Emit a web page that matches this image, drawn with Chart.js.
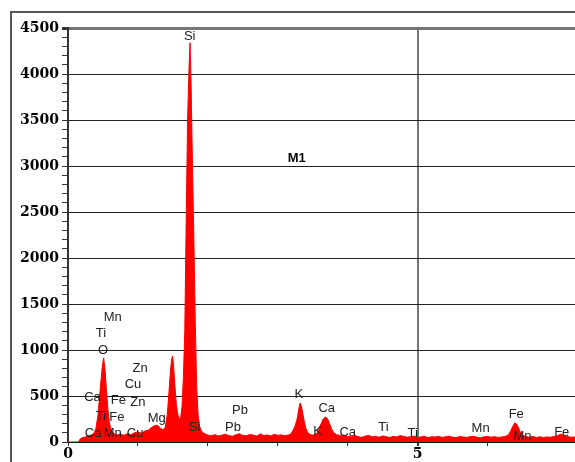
<!DOCTYPE html>
<html>
<head>
<meta charset="utf-8">
<script src="https://cdn.jsdelivr.net/npm/chart.js@4.4.1/dist/chart.umd.min.js"></script>
<style>
  html, body { margin: 0; padding: 0; background: #fff; }
  #wrap { width: 575px; height: 462px; }
</style>
</head>
<body>
<div id="wrap"><canvas id="spectrum" width="575" height="462"></canvas></div>
<script>
// EDS spectrum, sample M1 - energy (keV) vs counts
const energyKeV = [
  0, 0.15, 0.17, 0.2, 0.25, 0.3, 0.35, 0.38, 0.4, 0.43, 0.45, 0.47, 0.49, 0.51, 0.53, 0.55, 0.57, 0.59, 0.61, 0.63,
  0.66, 0.7, 0.75, 0.8, 0.85, 0.9, 0.95, 1.0, 1.05, 1.1, 1.15, 1.2, 1.24, 1.28, 1.32, 1.36, 1.39,
  1.42, 1.44, 1.46, 1.48, 1.495, 1.51, 1.53, 1.55, 1.57, 1.59, 1.61, 1.63, 1.65, 1.67, 1.69, 1.71, 1.73, 1.745, 1.76, 1.78, 1.8, 1.82, 1.84, 1.86, 1.88, 1.9, 1.93, 1.97, 2.0,
  2.05, 2.1, 2.15, 2.2, 2.25, 2.3, 2.35, 2.4, 2.45, 2.5, 2.55, 2.6, 2.65, 2.7, 2.75, 2.8, 2.85, 2.9, 2.95, 3.0, 3.05, 3.1, 3.15,
  3.19, 3.22, 3.25, 3.28, 3.3, 3.32, 3.34, 3.36, 3.38, 3.4, 3.43, 3.47, 3.5, 3.53, 3.56, 3.59, 3.62, 3.65, 3.68, 3.71, 3.74, 3.77, 3.8, 3.84, 3.9, 3.95,
  4.0, 4.05, 4.1, 4.15, 4.2, 4.25, 4.3, 4.35, 4.4, 4.45, 4.5, 4.55, 4.6, 4.65, 4.7, 4.75, 4.8, 4.85, 4.9, 4.95,
  5.0, 5.05, 5.1, 5.15, 5.2, 5.25, 5.3, 5.35, 5.4, 5.45, 5.5, 5.55, 5.6, 5.65, 5.7, 5.75, 5.8, 5.85, 5.9, 5.95,
  6.0, 6.05, 6.1, 6.15, 6.2, 6.25,
  6.3, 6.33, 6.36, 6.39, 6.42, 6.45, 6.48, 6.52, 6.56, 6.6, 6.65, 6.7, 6.75, 6.8, 6.85, 6.9, 6.95, 7.0, 7.04, 7.07, 7.1, 7.15, 7.2, 7.25
];
const counts = [
  0, 0, 30, 45, 55, 70, 80, 110, 150, 300, 480, 650, 820, 915, 780, 560, 360, 220, 150, 110,
  90, 75, 88, 72, 92, 80, 100, 110, 95, 120, 130, 160, 178, 182, 150, 132, 160,
  300, 500, 720, 890, 935, 820, 600, 400, 300, 250, 260, 380, 700, 1200, 2400, 3500, 4050, 4340, 3900, 3000, 2200, 1300, 600, 300, 180, 130, 100, 85, 75,
  68, 80, 66, 74, 85, 70, 62, 78, 90, 72, 68, 82, 75, 64, 88, 70, 76, 66, 84, 72, 78, 68, 76,
  90, 130, 180, 260, 360, 424, 380, 300, 220, 150, 100, 80, 75, 82, 95, 140, 200, 250, 272, 255, 200, 140, 100, 80, 70, 60,
  62, 55, 68, 58, 50, 64, 72, 56, 60, 52, 66, 58, 48, 62, 55, 70, 60, 52, 58, 64,
  50, 56, 62, 48, 58, 54, 60, 50, 57, 63, 52, 48, 60, 55, 50, 58, 62, 52, 47, 56,
  60, 52, 58, 50, 55, 60,
  80, 120, 170, 210, 190, 140, 90, 65, 58, 52, 60, 50, 56, 48, 55, 52, 60, 68, 85, 80, 68, 58, 52, 55
];

// element marker labels (energy keV, count height where text sits)
const labelText = ['Si', 'Mn', 'Ti', 'O', 'Zn', 'Cu', 'Ca', 'Fe', 'Zn', 'Ti', 'Fe', 'Mg', 'Ca', 'Mn', 'Cu', 'Si', 'Pb', 'Pb',
  'K', 'Ca', 'K', 'Ca', 'Ti', 'Ti', 'Mn', 'Fe', 'Mn', 'Fe'];
const labelKeV = [1.74, 0.64, 0.47, 0.5, 1.03, 0.93, 0.35, 0.72, 1.0, 0.47, 0.7, 1.27, 0.36, 0.64, 0.96, 1.81, 2.46, 2.36,
  3.3, 3.7, 3.57, 4.0, 4.51, 4.93, 5.9, 6.41, 6.5, 7.06];
const labelCounts = [4413, 1359, 1185, 1000, 804, 630, 489, 457, 435, 283, 272, 261, 98, 98, 98, 163, 348, 163,
  522, 370, 120, 109, 163, 98, 152, 304, 65, 109];

const sampleName = 'M1';
const sampleAt = [3.27, 3087];

const xLabelled = [0, 5];
const yLabelStep = 500;

const points = energyKeV.map((e, i) => ({ x: e, y: counts[i] }));

// frame + peak labels
const decor = {
  id: 'decor',
  beforeDraw(chart) {
    const c = chart.ctx;
    c.save();
    c.fillStyle = '#fff';
    c.fillRect(0, 0, chart.width, chart.height);
    c.strokeStyle = '#555';
    c.lineWidth = 2;
    c.beginPath();
    c.moveTo(11, chart.height);
    c.lineTo(11, 12);
    c.lineTo(chart.width, 12);
    c.stroke();
    c.restore();
  },
  afterDatasetsDraw(chart) {
    const c = chart.ctx;
    const xs = chart.scales.x, ys = chart.scales.y;
    c.save();
    c.fillStyle = '#222';
    c.textAlign = 'center';
    c.textBaseline = 'middle';
    c.font = '13px "Liberation Sans", Arial, sans-serif';
    labelText.forEach((t, i) => {
      c.fillText(t, xs.getPixelForValue(labelKeV[i]), ys.getPixelForValue(labelCounts[i]));
    });
    c.font = 'bold 13px "Liberation Sans", Arial, sans-serif';
    c.fillStyle = '#000';
    c.fillText(sampleName, xs.getPixelForValue(sampleAt[0]), ys.getPixelForValue(sampleAt[1]));
    c.restore();
  }
};

const tickFont = { family: '"DejaVu Serif", serif', size: 14, weight: 'bold' };

new Chart(document.getElementById('spectrum'), {
  type: 'line',
  data: {
    datasets: [{
      data: points,
      borderColor: '#ff0000',
      backgroundColor: '#ff0000',
      borderWidth: 1,
      pointRadius: 0,
      fill: 'origin',
      tension: 0
    }]
  },
  options: {
    responsive: false,
    animation: false,
    events: [],
    layout: { padding: { left: 0, top: 28, right: 0, bottom: 0 } },
    plugins: { legend: { display: false }, tooltip: { enabled: false } },
    scales: {
      x: {
        type: 'linear',
        min: 0,
        max: 7.25,
        afterFit: s => { s.height = 20; },
        border: { color: '#111', width: 1 },
        grid: {
          color: ctx => ctx.tick && ctx.tick.value === 5 ? '#777' : 'transparent',
          lineWidth: ctx => ctx.tick && ctx.tick.value === 5 ? 2 : 1,
          tickColor: '#333',
          tickLength: 4
        },
        ticks: {
          stepSize: 1,
          autoSkip: false,
          maxRotation: 0,
          padding: 0,
          color: '#000',
          font: tickFont,
          callback: v => xLabelled.includes(v) ? v : ''
        }
      },
      y: {
        min: 0,
        max: 4500,
        afterFit: s => { s.width = 68; },
        border: { color: '#333', width: 2 },
        grid: {
          color: ctx => ctx.tick && ctx.tick.value === 4500 ? '#777' : (ctx.tick && ctx.tick.value % yLabelStep === 0 ? '#222' : 'transparent'),
          lineWidth: ctx => ctx.tick && ctx.tick.value === 4500 ? 3 : 1,
          tickColor: '#333',
          tickLength: 6
        },
        ticks: {
          stepSize: 100,
          maxTicksLimit: 100,
          autoSkip: false,
          padding: 3,
          color: '#000',
          font: tickFont,
          callback: v => v % yLabelStep === 0 ? v : ''
        }
      }
    }
  },
  plugins: [decor]
});
</script>
</body>
</html>
